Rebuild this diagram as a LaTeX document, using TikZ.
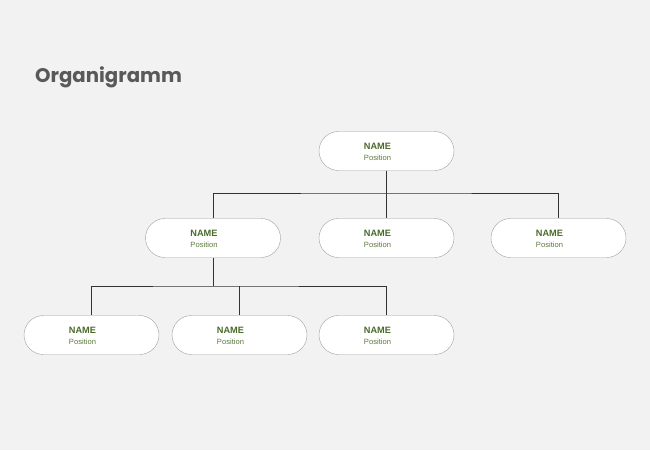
\documentclass[tikz,border=0pt]{standalone}
\usepackage{fontspec}
\setmainfont{Liberation Sans}
\newfontfamily\titlefont{Poppins}
\usepackage{tikz}
\definecolor{bg}{HTML}{F2F2F2}
\definecolor{namegreen}{HTML}{4A6A2A}
\definecolor{posgreen}{HTML}{5C7A3E}
\definecolor{boxline}{HTML}{A0A0A0}
\definecolor{titlegray}{HTML}{595959}
\definecolor{wire}{HTML}{333333}
\newcommand{\pname}{\raisebox{-2pt}[\height][\depth]{\begin{tabular}{@{}c@{\hspace{18pt}}}
    {\fontsize{9.2}{10}\selectfont\bfseries\color{namegreen}NAME}\\[-1pt]
    {\fontsize{7.6}{9}\selectfont\color{posgreen}Position}
    \end{tabular}}}

\begin{document}
\begin{tikzpicture}[x=1pt,y=-1pt]
% Styles
\tikzset{
    person/.style={draw=boxline, fill=white, rounded corners=19.5pt,
        minimum width=135pt, minimum height=39pt, inner sep=0pt},
    link/.style={draw=wire, line width=1pt}
}
% Background
\fill[bg] (0,0) rectangle (650,450);
\useasboundingbox (0,0) rectangle (650,450);
% Title
\node[anchor=west, text=titlegray, inner sep=0pt] (title) at (35,77)
    {\titlefont\bfseries\fontsize{19.7}{22}\selectfont Organigramm};
% Boxes
\node[person] (top) at (386.5,151){\pname};
\node[person] (ma) at (213,238){\pname};
\node[person] (mb) at (386.5,238){\pname};
\node[person] (mc) at (558.5,238){\pname};
\node[person] (la) at (91.5,335){\pname};
\node[person] (lb) at (239.5,335){\pname};
\node[person] (lc) at (386.5,335){\pname};
% Connectors
\coordinate (busa) at (386.5,193);
\coordinate (busb) at (213,286);
\draw[link] (top.south) -- (mb.north);
\draw[link] (ma.north) |- (busa) -| (mc.north);
\draw[link] (ma.south) -- (busb);
\draw[link] (la.north) |- (busb) -| (lc.north);
\draw[link] (lb.north) -- (lb.north |- busb);
\end{tikzpicture}
\end{document}
